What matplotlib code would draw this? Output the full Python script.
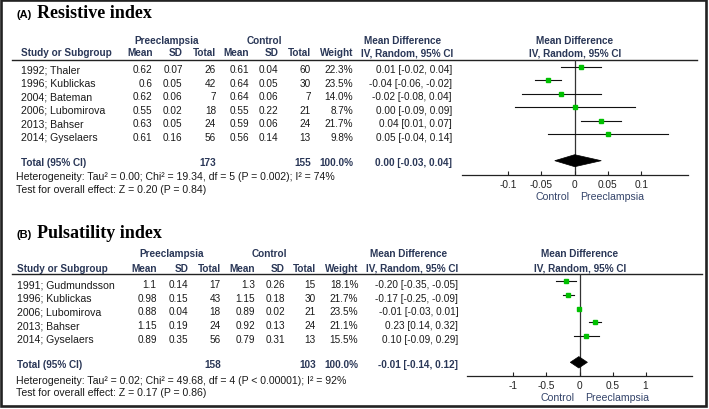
import matplotlib
matplotlib.use("Agg")
import matplotlib.pyplot as plt
from matplotlib.patches import Rectangle, Polygon
import numpy as np

# ---------------- data ----------------
A_studies = ["1992; Thaler", "1996; Kublickas", "2004; Bateman", "2006; Lubomirova", "2013; Bahser", "2014; Gyselaers"]
A_pre_mean = [0.62, 0.6, 0.62, 0.55, 0.63, 0.61]
A_pre_sd = [0.07, 0.05, 0.06, 0.02, 0.05, 0.16]
A_pre_n = [26, 42, 7, 18, 24, 56]
A_ctl_mean = [0.61, 0.64, 0.64, 0.55, 0.59, 0.56]
A_ctl_sd = [0.04, 0.05, 0.06, 0.22, 0.06, 0.14]
A_ctl_n = [60, 30, 7, 21, 24, 13]
A_weight = [22.3, 23.5, 14.0, 8.7, 21.7, 9.8]
A_md = [0.01, -0.04, -0.02, 0.00, 0.04, 0.05]
A_lo = [-0.02, -0.06, -0.08, -0.09, 0.01, -0.04]
A_hi = [0.04, -0.02, 0.04, 0.09, 0.07, 0.14]
A_total = [0.00, -0.03, 0.04]
A_total_n = [173, 155]
A_total_weight = 100.0
A_het = "Heterogeneity: Tau\u00b2 = 0.00; Chi\u00b2 = 19.34, df = 5 (P = 0.002); I\u00b2 = 74%"
A_test = "Test for overall effect: Z = 0.20 (P = 0.84)"
A_ticks = [-0.1, -0.05, 0, 0.05, 0.1]
A_ticklabels = ["-0.1", "-0.05", "0", "0.05", "0.1"]

B_studies = ["1991; Gudmundsson", "1996; Kublickas", "2006; Lubomirova", "2013; Bahser", "2014; Gyselaers"]
B_pre_mean = [1.1, 0.98, 0.88, 1.15, 0.89]
B_pre_sd = [0.14, 0.15, 0.04, 0.19, 0.35]
B_pre_n = [17, 43, 18, 24, 56]
B_ctl_mean = [1.3, 1.15, 0.89, 0.92, 0.79]
B_ctl_sd = [0.26, 0.18, 0.02, 0.13, 0.31]
B_ctl_n = [15, 30, 21, 24, 13]
B_weight = [18.1, 21.7, 23.5, 21.1, 15.5]
B_md = [-0.20, -0.17, -0.01, 0.23, 0.10]
B_lo = [-0.35, -0.25, -0.03, 0.14, -0.09]
B_hi = [-0.05, -0.09, 0.01, 0.32, 0.29]
B_total = [-0.01, -0.14, 0.12]
B_total_n = [158, 103]
B_total_weight = 100.0
B_het = "Heterogeneity: Tau\u00b2 = 0.02; Chi\u00b2 = 49.68, df = 4 (P < 0.00001); I\u00b2 = 92%"
B_test = "Test for overall effect: Z = 0.17 (P = 0.86)"
B_ticks = [-1, -0.5, 0, 0.5, 1]
B_ticklabels = ["-1", "-0.5", "0", "0.5", "1"]

# ---------------- style ----------------
W, H = 709, 410
SANS = "Liberation Sans"
SERIF = "Liberation Serif"
FS_NUM = 7.2     # numbers
FS_TXT = 7.6     # names / footnotes
FS_BOLD = 7.2    # bold headers
BODY = "#1a1a1a"
HEAD = "#2a3757"
GREEN = "#00c000"

fig = plt.figure(figsize=(W / 100, H / 100), dpi=100)
bg = fig.add_axes([0, 0, 1, 1])
bg.set_xlim(0, W)
bg.set_ylim(H, 0)
bg.axis("off")

# outer frame
bg.add_patch(Rectangle((1.2, 1.2), 704.6, 405.8, fill=False, edgecolor="#222222", lw=1.9))


def fmt(v):
    return f"{v:g}"


def panel(letter, title, studies, pm, psd, pn, cm, csd, cn, wt, md, lo, hi, tot, totn, totw, het, test,
          ticks, ticklabels, L):
    def t(x, y, s, fs=FS_NUM, family=SANS, **kw):
        return bg.text(x, y, s, fontsize=fs, family=family, va="baseline", **kw)

    # title
    t(16.7, L["title"], letter, fs=8, weight="bold", color="black")
    t(36.7, L["title"], title, fs=13, family=SERIF, weight="bold", color="black")
    # headers
    hb = dict(fs=FS_BOLD, weight="bold", color=HEAD)
    t(L["pre_c"], L["h1"], "Preeclampsia", ha="center", **hb)
    t(L["ctl_c"], L["h1"], "Control", ha="center", **hb)
    t(L["md1_c"], L["h1"], "Mean Difference", ha="center", **hb)
    t(L["md2_c"], L["h2"], "IV, Random, 95% CI", ha="center", **hb)
    t(L["plot_c"], L["h1"], "Mean Difference", ha="center", **hb)
    t(L["plot_c"], L["h2"], "IV, Random, 95% CI", ha="center", **hb)
    t(L["name_x"], L["h2"], "Study or Subgroup", ha="left", **hb)
    cols = L["cols"]
    for x, s in zip(cols, ["Mean", "SD", "Total", "Mean", "SD", "Total", "Weight"]):
        t(x, L["h2"], s, ha="right", **hb)
    bg.plot([12, L["hline_x1"]], [L["hline"], L["hline"]], color="#222222", lw=1.0)
    # rows
    for i, name in enumerate(studies):
        y = L["row0"] + i * L["dy"]
        t(L["name_x"], y, name, fs=FS_TXT, ha="left", color=BODY)
        vals = [fmt(pm[i]), fmt(psd[i]), str(pn[i]), fmt(cm[i]), fmt(csd[i]), str(cn[i]), f"{wt[i]:.1f}%"]
        for x, s in zip(cols, vals):
            t(x, y, s, ha="right", color=BODY)
        t(L["md_r"], y, f"{md[i]:.2f} [{lo[i]:.2f}, {hi[i]:.2f}]", ha="right", color=BODY)
    # total row
    y = L["total"]
    t(L["name_x"], y, "Total (95% CI)", ha="left", **hb)
    t(cols[2], y, str(totn[0]), ha="right", **hb)
    t(cols[5], y, str(totn[1]), ha="right", **hb)
    t(cols[6], y, f"{totw:.1f}%", ha="right", **hb)
    t(L["md_r"], y, f"{tot[0]:.2f} [{tot[1]:.2f}, {tot[2]:.2f}]", ha="right", **hb)
    t(16, L["het"], het, fs=FS_TXT, ha="left", color=BODY)
    t(16, L["test"], test, fs=FS_TXT, ha="left", color=BODY)

    # forest axes
    x0, x1, top, bot = L["fx0"], L["fx1"], L["hline"], L["axis"]
    ax = fig.add_axes([x0 / W, 1 - bot / H, (x1 - x0) / W, (bot - top) / H])
    ax.patch.set_alpha(0)
    r0, dy = L["frow0"], L["fdy"]
    ax.set_ylim((bot - r0) / dy, (top - r0) / dy)
    ax.set_xlim(L["xlim"])
    ytot = (L["ftotal"] - r0) / dy
    ax.axvline(0, color="#333333", lw=0.9, zorder=1)
    for i in range(len(studies)):
        ax.plot([lo[i], hi[i]], [i, i], color="#111111", lw=0.8, zorder=2)
        ax.plot(md[i], i, marker="s", color=GREEN, mec=GREEN, ms=np.sqrt(wt[i]) * 0.74, zorder=3)
    hh = L["dh"] / dy
    ax.add_patch(Polygon([[tot[1], ytot], [tot[0], ytot - hh], [tot[2], ytot], [tot[0], ytot + hh]],
                         closed=True, facecolor="black", edgecolor="black", lw=0.5, zorder=4))
    for s in ["left", "right", "top"]:
        ax.spines[s].set_visible(False)
    ax.spines["bottom"].set_color("#222222")
    ax.spines["bottom"].set_linewidth(0.9)
    ax.set_yticks([])
    ax.set_xticks(ticks)
    ax.set_xticklabels(ticklabels, fontsize=7.3, family=SANS, color="#222222")
    ax.tick_params(axis="x", direction="in", length=3.2, width=0.8, pad=2.8, color="#222222")
    ax.annotate("Control", xy=(0, 0), xycoords=("data", "axes fraction"), xytext=(-3.5, -17),
                textcoords="offset points", ha="right", va="baseline", fontsize=FS_TXT, family=SANS,
                color="#34446a")
    ax.annotate("Preeclampsia", xy=(0, 0), xycoords=("data", "axes fraction"), xytext=(3.8, -17),
                textcoords="offset points", ha="left", va="baseline", fontsize=FS_TXT, family=SANS,
                color="#34446a")


LA = dict(title=18.5, h1=43.7, h2=56.3, hline=61, hline_x1=697, row0=73.3, dy=13.47, total=166,
          het=180, test=192.7, name_x=21, cols=[152.7, 182.7, 216, 249.3, 278.7, 310.7, 353.3],
          md_r=452, pre_c=166.7, ctl_c=264, md1_c=403, md2_c=407, plot_c=575,
          fx0=461.7, fx1=687.7, axis=176, frow0=67.7, fdy=13.5, ftotal=161.7, dh=6.0,
          xlim=(-0.17, 0.17))
LB = dict(title=238.3, h1=257, h2=272, hline=275.3, hline_x1=702, row0=288.3, dy=13.6, total=367.7,
          het=384, test=395.7, name_x=16.7, cols=[156.7, 188.3, 220.7, 255, 285, 316, 358.3],
          md_r=458.3, pre_c=171.7, ctl_c=269, md1_c=408.5, md2_c=412.5, plot_c=580,
          fx0=466.6, fx1=692.4, axis=377.3, frow0=282, fdy=13.75, ftotal=363.3, dh=5.7,
          xlim=(-1.71, 1.71))

panel("(A)", "Resistive index", A_studies, A_pre_mean, A_pre_sd, A_pre_n, A_ctl_mean, A_ctl_sd,
      A_ctl_n, A_weight, A_md, A_lo, A_hi, A_total, A_total_n, A_total_weight, A_het, A_test,
      A_ticks, A_ticklabels, LA)
panel("(B)", "Pulsatility index", B_studies, B_pre_mean, B_pre_sd, B_pre_n, B_ctl_mean, B_ctl_sd,
      B_ctl_n, B_weight, B_md, B_lo, B_hi, B_total, B_total_n, B_total_weight, B_het, B_test,
      B_ticks, B_ticklabels, LB)

fig.savefig("out.png", dpi=100)
